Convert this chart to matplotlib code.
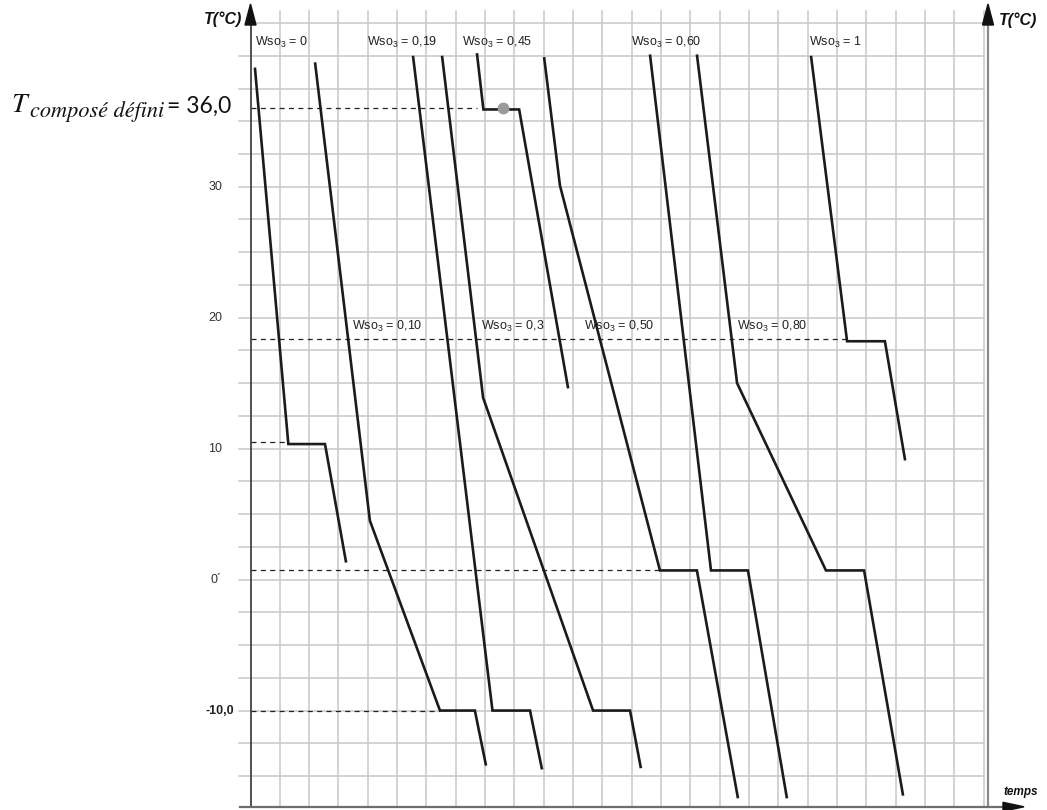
import matplotlib
matplotlib.use("Agg")
import matplotlib.pyplot as plt
from matplotlib.patches import Polygon
import numpy as np

# ---------------- data ----------------
# time axis in grid squares, temperature in °C
labels = ["0", "0,10", "0,19", "0,3", "0,45", "0,50", "0,60", "0,80", "1"]

t_000 = [0.15, 1.29, 2.54, 3.26]
T_000 = [39.1, 10.35, 10.35, 1.3]

t_010 = [2.20, 4.07, 6.46, 7.65, 8.03]
T_010 = [39.5, 4.5, -10.0, -10.0, -14.2]

t_019 = [5.54, 8.25, 9.53, 9.94]
T_019 = [40.0, -10.0, -10.0, -14.5]

t_030 = [6.53, 7.93, 11.68, 12.94, 13.31]
T_030 = [40.0, 13.9, -10.0, -10.0, -14.4]

t_045 = [7.72, 7.94, 9.16, 10.83]
T_045 = [40.2, 35.9, 35.9, 14.6]

t_050 = [10.01, 10.55, 13.96, 15.22, 16.62]
T_050 = [39.9, 30.1, 0.7, 0.7, -16.7]

t_060 = [13.62, 15.70, 16.96, 18.29]
T_060 = [40.1, 0.7, 0.7, -16.7]

t_080 = [15.22, 16.59, 19.62, 20.92, 22.25]
T_080 = [40.1, 15.0, 0.7, 0.7, -16.5]

t_100 = [19.11, 20.34, 21.63, 22.32]
T_100 = [40.0, 18.2, 18.2, 9.1]

curves_t = [t_000, t_010, t_019, t_030, t_045, t_050, t_060, t_080, t_100]
curves_T = [T_000, T_010, T_019, T_030, T_045, T_050, T_060, T_080, T_100]

# dashed reference levels and how far they run along the time axis
dash_T = [36.0, 18.4, 10.5, 0.7, -10.0]
dash_end = [7.71, 20.34, 1.18, 13.96, 6.46]

# compound point
dot_t, dot_T = 8.60, 36.0

# y labels
ytick_vals = [30, 20, 10, 0, -10]
ytick_text = ["30", "20", "10", "0\u00b4", "-10,0"]

# label positions (time, temperature of baseline)
label_t = [0.15, 3.45, 3.98, 7.86, 7.22, 11.38, 12.97, 16.58, 19.05]
label_T = [40.75, 19.1, 40.75, 19.1, 40.75, 19.1, 40.75, 19.1, 40.75]

# ---------------- figure ----------------
W, H = 1047, 810
fig = plt.figure(figsize=(W / 100, H / 100), dpi=100)
fig.patch.set_facecolor("white")

X0, XS = 250.5, 29.33      # px of t=0, px per grid square
Y0, YS = 579.6, 13.096     # px of T=0, px per °C
xmin, xmax = 0.0, (988 - X0) / XS
ymin, ymax = (Y0 - 806.8) / YS, (Y0 - 11.2) / YS

ax = fig.add_axes([X0 / W, (H - 806.8) / H, (988 - X0) / W, 795.6 / H])
ax.set_xlim(xmin, xmax)
ax.set_ylim(ymin, ymax)
ax.axis("off")

def xd(px):
    return (px - X0) / XS

def Td(py):
    return (Y0 - py) / YS

grid_c = "#c8c8c8"
# horizontal grid lines
for T in np.arange(-15, 43, 2.5):
    left = 0 if T > 42 else xd(239)
    ax.plot([left, 25], [T, T], color=grid_c, lw=1.1, clip_on=False, zorder=1)
# vertical grid lines
for k in range(1, 26):
    ax.plot([k, k], [ymin, ymax], color=grid_c, lw=1.1, clip_on=False, zorder=1)

# axes lines
ax.plot([0, 0], [ymin, Td(20)], color="#333333", lw=1.2, clip_on=False, zorder=4)
ax.plot([xmax, xmax], [ymin, Td(20)], color="#8a8a8a", lw=1.6, clip_on=False, zorder=4)
ax.plot([xd(240), xd(1006)], [ymin, ymin], color="#6e6e6e", lw=1.6, clip_on=False, zorder=4)

def arrow_up(x):
    hw = 5.5 / XS
    ax.add_patch(Polygon([[x, Td(4)], [x - hw, Td(25)], [x + hw, Td(25)]],
                         closed=True, color="#111111", clip_on=False, zorder=5))

arrow_up(0)
arrow_up(xmax)
hh = 4.5 / YS
ax.add_patch(Polygon([[xd(1024), ymin], [xd(1003), ymin + hh], [xd(1003), ymin - hh]],
                     closed=True, color="#111111", clip_on=False, zorder=5))

# dashed lines
for T, e in zip(dash_T, dash_end):
    ax.plot([0, e], [T, T], color="#222222", lw=0.9, dashes=(4, 3.5),
            clip_on=False, zorder=2)

# cooling curves
for t, T in zip(curves_t, curves_T):
    ax.plot(t, T, color="#1b1b1b", lw=1.9, solid_joinstyle="miter",
            solid_capstyle="butt", zorder=3)

ax.plot([dot_t], [dot_T], "o", ms=7.5, color="#9a9a9a", zorder=6)

# curve labels
plt.rcParams["mathtext.default"] = "regular"
for lab, lt, lT in zip(labels, label_t, label_T):
    ax.text(lt, lT, "Wso$_3$ = " + lab, fontsize=9, family="Liberation Sans",
            color="#222222", ha="left", va="baseline", zorder=7)

# y tick labels
for v, s in zip(ytick_vals, ytick_text):
    if s.startswith("-10"):
        ax.text(xd(234), v, s, fontsize=9, family="Liberation Sans",
                fontweight="bold", ha="right", va="center", color="#222222")
    else:
        ax.text(xd(222), v, s, fontsize=9, family="Liberation Sans",
                ha="right", va="center", color="#333333")

# axis titles
def ftext(px, py, s, **kw):
    fig.text(px / W, 1 - py / H, s, **kw)

ftext(242, 19, "T(°C)", fontsize=11.5, family="Liberation Sans", fontweight="bold",
      style="italic", ha="right", va="center", color="#111111")
ftext(999, 20, "T(°C)", fontsize=11.5, family="Liberation Sans", fontweight="bold",
      style="italic", ha="left", va="center", color="#111111")
ftext(1003, 792, "temps", fontsize=8.5, family="Liberation Sans", fontweight="bold",
      style="italic", ha="left", va="center", color="#111111")

# compound annotation
ftext(11, 112, "T", fontsize=20, family="STIXGeneral", style="italic",
      ha="left", va="baseline", color="#111111")
ftext(30, 117, "composé défini", fontsize=16, family="STIXGeneral", style="italic",
      ha="left", va="baseline", color="#111111")
ftext(167, 113, "= 36,0", fontsize=16.5, family="Lato", ha="left", va="baseline",
      color="#111111")

fig.savefig("out.png", dpi=100, facecolor="white")
